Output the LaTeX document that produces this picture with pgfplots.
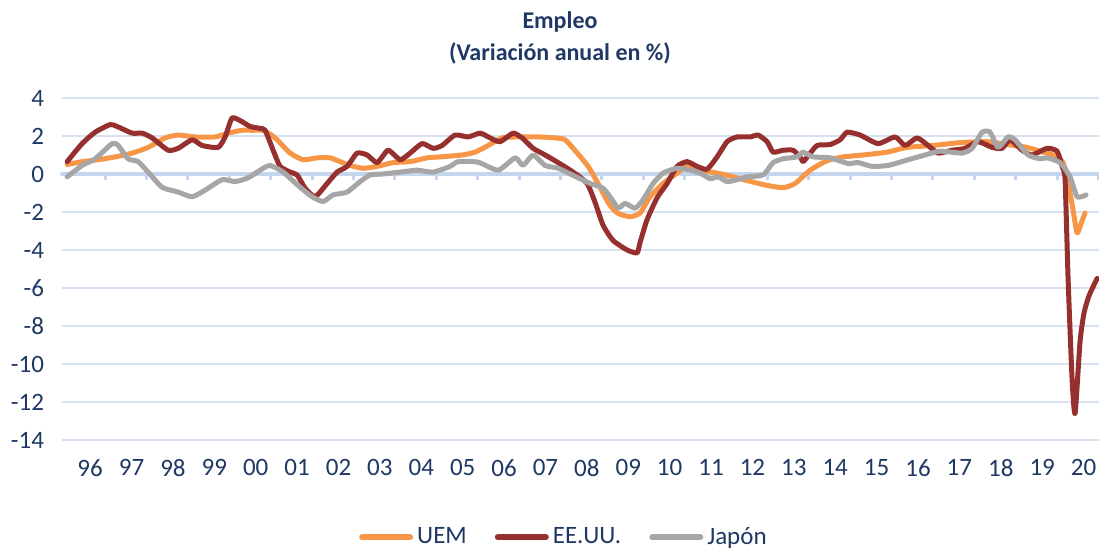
\documentclass[border=0pt]{standalone}
\usepackage{pgfplots}
\pgfplotsset{compat=1.18}
\usepackage{pgfplotstable}
\usepackage{fontspec}
\setmainfont{Carlito}
\definecolor{uem}{RGB}{247,150,70}
\definecolor{eeuu}{RGB}{150,48,46}
\definecolor{japon}{RGB}{166,166,166}
\definecolor{gridblue}{RGB}{214,226,242}
\definecolor{zeroblue}{RGB}{196,214,238}
\definecolor{labelblue}{RGB}{31,56,100}
\definecolor{titleblue}{RGB}{31,56,100}

% px = horizontal position in the reference (label "96" at px 90, 41.4 px per year)
\pgfplotstableread{
px v
67 0.5
82 0.65
98 0.75
115 0.9
132 1.1
148 1.4
165 1.9
178 2.05
195 1.95
215 1.95
228 2.15
242 2.3
252 2.3
262 2.3
270 2.1
277 1.8
290 1.1
303 0.75
317 0.85
330 0.85
340 0.65
350 0.45
363 0.3
377 0.4
393 0.6
410 0.65
427 0.85
440 0.9
462 1.0
475 1.15
488 1.5
502 1.9
518 1.95
538 1.95
555 1.9
565 1.8
578 1.05
588 0.4
598 -0.5
608 -1.5
617 -2.05
630 -2.25
640 -2.05
650 -1.2
663 -0.5
677 0.05
687 0.4
700 0.2
717 0.05
733 -0.15
747 -0.35
767 -0.6
783 -0.72
795 -0.5
810 0.2
827 0.7
843 0.9
863 1.0
887 1.15
907 1.4
933 1.5
960 1.65
987 1.7
1007 1.55
1027 1.4
1043 1.15
1053 1.0
1063 0.6
1068 -0.5
1072 -1.6
1077 -3.1
1081 -2.6
1085 -2.05
}\uemdata

\pgfplotstableread{
px v
67 0.65
82 1.6
95 2.2
110 2.6
117 2.5
132 2.15
142 2.15
152 1.9
168 1.25
178 1.35
192 1.8
202 1.5
218 1.4
225 1.95
232 2.95
242 2.75
250 2.5
260 2.4
265 2.3
273 1.25
280 0.4
290 0.1
297 -0.05
305 -0.75
315 -1.2
327 -0.5
337 0.1
347 0.4
357 1.1
367 1.0
377 0.6
388 1.25
400 0.75
410 1.1
422 1.6
433 1.35
442 1.5
455 2.05
468 1.95
480 2.15
490 1.9
500 1.7
513 2.15
522 1.9
533 1.35
545 1.0
558 0.6
573 0.1
587 -0.5
595 -1.5
603 -2.7
613 -3.5
627 -4.0
637 -4.15
640 -3.6
647 -2.4
657 -1.25
667 -0.5
677 0.4
687 0.65
697 0.4
707 0.25
717 0.9
727 1.7
737 1.95
750 1.95
758 2.05
767 1.7
773 1.15
783 1.25
793 1.25
800 0.9
803 0.65
808 0.95
817 1.5
830 1.55
840 1.8
847 2.2
860 2.05
878 1.6
895 1.95
905 1.5
917 1.9
928 1.5
938 1.1
952 1.25
965 1.35
978 1.7
992 1.4
1002 1.35
1010 1.8
1022 1.25
1032 1.0
1047 1.35
1057 1.2
1062 0.4
1065 -0.3
1068 -5.5
1072 -10.8
1075 -12.6
1080 -8.8
1084 -7.3
1089 -6.4
1097 -5.5
}\eeuudata

\pgfplotstableread{
px v
67 -0.15
82 0.45
95 0.8
112 1.6
118 1.5
128 0.8
138 0.65
148 0.1
162 -0.7
178 -0.95
192 -1.2
205 -0.85
222 -0.3
235 -0.4
248 -0.2
263 0.3
270 0.45
283 0.1
300 -0.7
312 -1.2
323 -1.45
333 -1.1
347 -0.95
360 -0.4
370 -0.05
383 0.0
400 0.1
417 0.2
433 0.1
450 0.4
458 0.65
478 0.62
498 0.2
515 0.85
523 0.45
533 1.0
545 0.45
558 0.3
572 -0.05
590 -0.5
603 -0.75
612 -1.35
618 -1.8
625 -1.55
635 -1.8
643 -1.35
653 -0.5
663 0.05
677 0.3
690 0.2
700 0.05
710 -0.25
718 -0.15
727 -0.4
737 -0.3
747 -0.15
763 -0.05
773 0.6
783 0.8
797 0.9
803 1.15
813 0.9
830 0.85
848 0.55
858 0.6
872 0.4
888 0.45
908 0.75
925 1.0
940 1.2
962 1.1
972 1.35
982 2.2
990 2.2
998 1.4
1008 1.95
1015 1.8
1028 1.0
1040 0.8
1047 0.85
1060 0.6
1070 -0.15
1077 -1.2
1086 -1.1
}\japondata

\begin{document}
\begin{tikzpicture}[x=1pt,y=1pt]
\path[use as bounding box] (0,0) rectangle (549.5,274.5);
\begin{axis}[
  at={(31pt,54.5pt)}, anchor=south west,
  scale only axis, width=518.5pt, height=171pt,
  xmin=1995.32, xmax=2020.37, ymin=-14, ymax=4,
  axis line style={draw=none},
  ytick={-14,-12,-10,-8,-6,-4,-2,0,2,4},
  yticklabels={-14,-12,-10,-8,-6,-4,-2,0,2,4},
  xtick={1996,...,2020},
  xticklabels={96,97,98,99,00,01,02,03,04,05,06,07,08,09,10,11,12,13,14,15,16,17,18,19,20},
  major tick length=0pt,
  ymajorgrids, grid style={gridblue, line width=0.7pt},
  tick label style={font=\fontsize{12.5}{14}\selectfont, text=labelblue},
  yticklabel style={xshift=-5.5pt},
  xticklabel style={yshift=-6.3pt},
  clip=false,
  legend style={at={(0.485,-0.284)}, anchor=center, draw=none, fill=none,
    legend columns=3, font=\fontsize{12.5}{14}\selectfont, text=labelblue,
    /tikz/every even column/.append style={column sep=12pt}},
  legend image code/.code={\draw[#1, line width=3pt] (0pt,0pt) -- (24pt,0pt);},
  every axis plot/.append style={line width=2.5pt, line join=round, line cap=round, smooth, tension=0.35},
]
\addplot[zeroblue, line width=2pt, forget plot, sharp plot] coordinates {(1995.32,0) (2020.37,0)};
\addplot[zeroblue, line width=1.5pt, forget plot, line cap=butt, ycomb] coordinates {
(1996.36,-0.3) (1997.36,-0.3) (1998.36,-0.3) (1999.36,-0.3) (2000.36,-0.3) (2001.36,-0.3)
(2002.36,-0.3) (2003.36,-0.3) (2004.36,-0.3) (2005.36,-0.3) (2006.36,-0.3) (2007.36,-0.3)
(2008.36,-0.3) (2009.36,-0.3) (2010.36,-0.3) (2011.36,-0.3) (2012.36,-0.3) (2013.36,-0.3)
(2014.36,-0.3) (2015.36,-0.3) (2016.36,-0.3) (2017.36,-0.3) (2018.36,-0.3) (2019.36,-0.3)
(2020.36,-0.3)};
\addplot[uem] table[x expr=1996+(\thisrow{px}-90)/41.4, y=v] {\uemdata};
\addlegendentry{UEM}
\addplot[eeuu] table[x expr=1996+(\thisrow{px}-90)/41.4, y=v] {\eeuudata};
\addlegendentry{EE.UU.}
\addplot[japon] table[x expr=1996+(\thisrow{px}-90)/41.4, y=v] {\japondata};
\addlegendentry{Japón}
\end{axis}
\node[font=\bfseries\fontsize{12}{14}\selectfont, text=titleblue] at (280,263.5) {Empleo};
\node[font=\bfseries\fontsize{12}{14}\selectfont, text=titleblue] at (280,248) {(Variación anual en \%)};
\end{tikzpicture}
\end{document}
